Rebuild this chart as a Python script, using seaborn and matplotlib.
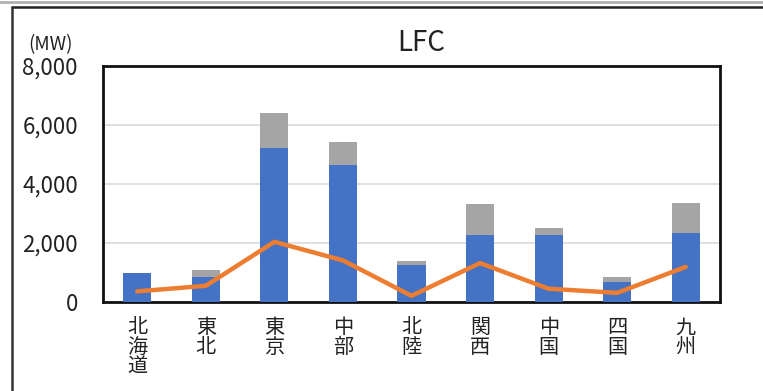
import matplotlib
matplotlib.use("Agg")
import matplotlib.pyplot as plt
from matplotlib.lines import Line2D
import numpy as np
import pandas as pd
import seaborn as sns

# Regional LFC capacity (MW)
regions = ["北海道", "東北", "東京", "中部", "北陸", "関西", "中国", "四国", "九州"]
base_mw = [1000, 860, 5220, 4650, 1260, 2280, 2280, 690, 2350]
extra_mw = [0, 230, 1180, 770, 140, 1050, 240, 165, 1010]
line_mw = [360, 550, 2040, 1410, 210, 1320, 450, 310, 1190]
y_ticks = [0, 2000, 4000, 6000, 8000]

BLUE = "#4472C4"
GRAY = "#A5A5A5"
ORANGE = "#ED7D31"

sns.set_theme(style="white")
plt.rcParams["font.family"] = ["Noto Sans CJK JP", "DejaVu Sans"]

df = pd.DataFrame({
    "region": regions,
    "base": base_mw,
    "total": np.array(base_mw) + np.array(extra_mw),
    "line": line_mw,
})

fig = plt.figure(figsize=(7.63, 3.91), dpi=100)
fig.patch.set_facecolor("white")
ax = fig.add_axes([103 / 763, 1 - 302 / 391, (720 - 103) / 763, (302 - 66) / 391])

sns.barplot(data=df, x="region", y="total", color=GRAY, width=0.41,
            saturation=1, linewidth=0, edgecolor="none", ax=ax, zorder=2)
sns.barplot(data=df, x="region", y="base", color=BLUE, width=0.41,
            saturation=1, linewidth=0, edgecolor="none", ax=ax, zorder=3)
sns.lineplot(x=np.arange(len(regions)), y=df["line"], color=ORANGE,
             linewidth=3.2, ax=ax, zorder=4, solid_joinstyle="miter")

ax.set_ylim(0, 8000)
ax.set_xlim(-0.5, len(regions) - 0.5)
ax.set_yticks(y_ticks)
ax.set_yticklabels([f"{v:,}" for v in y_ticks], fontsize=16, color="#222222")
ax.set_xticks(np.arange(len(regions)))
ax.set_xticklabels(["\n".join(r) for r in regions], fontsize=14.5,
                   color="#222222", linespacing=0.9, va="top")
ax.tick_params(axis="y", length=0, pad=18)
ax.tick_params(axis="x", length=0, pad=11)
ax.set_xlabel("")
ax.set_ylabel("")
ax.yaxis.grid(True, color="#D9D9D9", linewidth=1.2, zorder=0)
ax.set_axisbelow(True)
for s in ax.spines.values():
    s.set_visible(True)
    s.set_color("#111111")
    s.set_linewidth(2)

fig.text(421 / 763, 1 - 43 / 391, "LFC", fontsize=20, ha="center",
         va="center", color="#222222")
fig.text(50 / 763, 1 - 45 / 391, "(MW)", fontsize=13.5, ha="center",
         va="center", color="#222222")

# surrounding frame
fig.add_artist(Line2D([0, 1], [1 - 1.5 / 391] * 2, transform=fig.transFigure,
                      color="#B0B0B0", linewidth=2))
fig.add_artist(Line2D([12 / 763, 1], [1 - 7 / 391] * 2, transform=fig.transFigure,
                      color="#222222", linewidth=1.8))
fig.add_artist(Line2D([12 / 763] * 2, [0, 1 - 7 / 391], transform=fig.transFigure,
                      color="#333333", linewidth=1.8))

fig.savefig("out.png", dpi=100, facecolor="white")
